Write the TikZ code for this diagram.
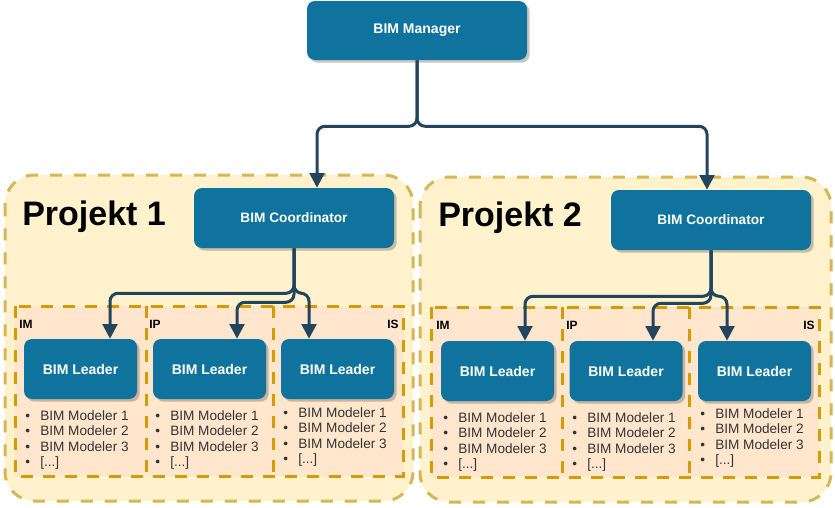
\documentclass[tikz,border=0pt]{standalone}
\usepackage{fontspec}
\setmainfont{Liberation Sans}
\usepackage{xcolor}
\usepackage{tikz}
\usetikzlibrary{positioning,calc,arrows.meta,shadows}

\definecolor{boxblue}{HTML}{10739E}
\definecolor{linkblue}{HTML}{23445D}
\definecolor{projfill}{HTML}{FFF2CC}
\definecolor{projline}{HTML}{D6B656}
\definecolor{teamfill}{HTML}{FFE6CC}
\definecolor{teamline}{HTML}{D79B00}
\definecolor{listgray}{HTML}{333333}

\newcommand{\modbullet}{\makebox[11.25pt][l]{\textbullet}}

\begin{document}
\begin{tikzpicture}[x=0.75pt, y=-0.75pt, >={Triangle[length=11pt,width=11pt]}, role/.style = {rectangle, rounded corners=6pt, fill=boxblue, text=white, inner sep=0pt, drop shadow={shadow xshift=2pt, shadow yshift=-2pt, fill=black, opacity=0.22}}, link/.style = {draw=linkblue, line width=2.25pt, rounded corners=6pt, ->}, project/.style = {draw=projline, fill=projfill, line width=2.25pt, dash pattern=on 9pt off 9pt, rounded corners=22pt}, team/.style = {draw=teamline, line width=2.25pt, dash pattern=on 9pt off 7.5pt}, tag/.style = {inner sep=0pt, font=\bfseries\fontsize{9}{11}\selectfont}, roster/.style = {anchor=west, inner sep=0pt, align=left, text=listgray, font=\fontsize{10.2}{11.7}\selectfont}]

\useasboundingbox (0,0) rectangle (835,507);

% project containers
\draw[project] (5,175) rectangle (413,501);
\draw[project] (420,177) rectangle (831,502);

% team containers
\draw[team, fill=teamfill] (15,306) rectangle (403,476);
\draw[team] (146,306) -- (146,476);
\draw[team] (273,306) -- (273,476);
\draw[team, fill=teamfill] (431,307) rectangle (819,477);
\draw[team] (562,307) -- (562,477);
\draw[team] (689,307) -- (689,477);

\node[anchor=west, inner sep=0pt, font=\bfseries\fontsize{25.5}{30}\selectfont] (p1) at (22,217) {Projekt 1};
\node[anchor=west, inner sep=0pt, font=\bfseries\fontsize{25.5}{30}\selectfont] (p2) at (438,218) {Projekt 2};

\node[tag, anchor=west] (im1) at (19,324) {IM};
\node[tag, anchor=west] (ip1) at (149,324) {IP};
\node[tag, anchor=east] (is1) at (399,324) {IS};
\node[tag, anchor=west] (im2) at (436,325) {IM};
\node[tag, anchor=west] (ip2) at (566,325) {IP};
\node[tag, anchor=east] (is2) at (815,325) {IS};

% roles
\node[role, minimum width=165pt, minimum height=44.25pt, font=\bfseries\fontsize{10.5}{12}\selectfont] (mgr) at (417,30.5) {BIM Manager};
\node[role, minimum width=150pt, minimum height=45pt, font=\bfseries\fontsize{10.25}{12}\selectfont] (c1) at (294,218) {BIM Coordinator};
\node[role, minimum width=150pt, minimum height=45pt, font=\bfseries\fontsize{10.25}{12}\selectfont] (c2) at (711,220) {BIM Coordinator};

\node[role, minimum width=84.75pt, minimum height=45pt, font=\bfseries\fontsize{10.5}{12}\selectfont] (l11) at (80.5,369) {BIM Leader};
\node[role, minimum width=84.75pt, minimum height=45pt, font=\bfseries\fontsize{10.5}{12}\selectfont] (l12) at (209.5,369) {BIM Leader};
\node[role, minimum width=84.75pt, minimum height=45pt, font=\bfseries\fontsize{10.5}{12}\selectfont] (l13) at (337.5,369) {BIM Leader};
\node[role, minimum width=84.75pt, minimum height=45pt, font=\bfseries\fontsize{10.5}{12}\selectfont] (l21) at (497.5,371) {BIM Leader};
\node[role, minimum width=84.75pt, minimum height=45pt, font=\bfseries\fontsize{10.5}{12}\selectfont] (l22) at (626,371) {BIM Leader};
\node[role, minimum width=84.75pt, minimum height=45pt, font=\bfseries\fontsize{10.5}{12}\selectfont] (l23) at (754.5,371) {BIM Leader};

% modeler lists
\node[roster] (r11) at (25,440) {\modbullet BIM Modeler 1\\ \modbullet BIM Modeler 2\\ \modbullet BIM Modeler 3\\ \modbullet [...]};
\node[roster] (r12) at (155,440) {\modbullet BIM Modeler 1\\ \modbullet BIM Modeler 2\\ \modbullet BIM Modeler 3\\ \modbullet [...]};
\node[roster] (r13) at (283,437) {\modbullet BIM Modeler 1\\ \modbullet BIM Modeler 2\\ \modbullet BIM Modeler 3\\ \modbullet [...]};
\node[roster] (r21) at (443,442) {\modbullet BIM Modeler 1\\ \modbullet BIM Modeler 2\\ \modbullet BIM Modeler 3\\ \modbullet [...]};
\node[roster] (r22) at (572,442) {\modbullet BIM Modeler 1\\ \modbullet BIM Modeler 2\\ \modbullet BIM Modeler 3\\ \modbullet [...]};
\node[roster] (r23) at (700,438) {\modbullet BIM Modeler 1\\ \modbullet BIM Modeler 2\\ \modbullet BIM Modeler 3\\ \modbullet [...]};

% connectors
\draw[link] (mgr.south) -- ++(0,66) -| ($(c1.north)+(23,0)$);
\draw[link] (mgr.south) -- ++(0,66) -| ($(c2.north)+(-4,0)$);

\draw[link] (c1.south) -- ++(0,45) -| ($(l11.north)+(29.5,0)$);
\draw[link] (c1.south) -- ++(0,54) -| ($(l12.north)+(27.5,0)$);
\draw[link] (c1.south) -- ++(0,45) -| ($(l13.north)+(-28.5,0)$);
\draw[link] (c2.south) -- ++(0,46) -| ($(l21.north)+(27.5,0)$);
\draw[link] (c2.south) -- ++(0,53) -| ($(l22.north)+(27,0)$);
\draw[link] (c2.south) -- ++(0,46) -| ($(l23.north)+(-27.5,0)$);
\end{tikzpicture}
\end{document}
